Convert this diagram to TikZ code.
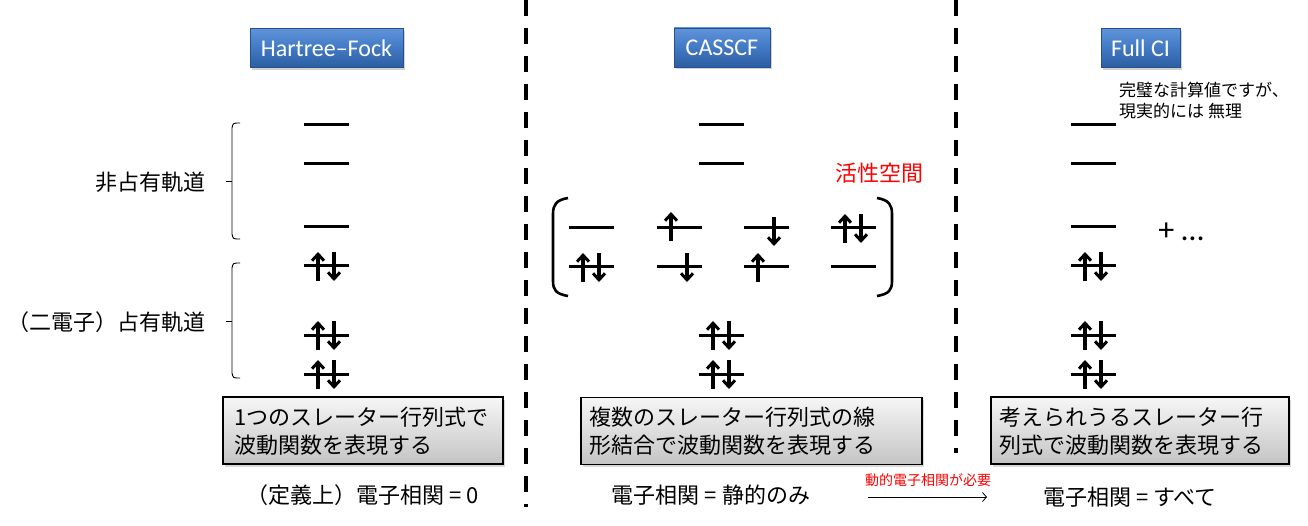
\documentclass[tikz,border=0pt]{standalone}
\usepackage{fontspec}
\setmainfont{Noto Sans CJK JP}
\newfontfamily\btnfont{Carlito}
\usetikzlibrary{arrows.meta,shadows}
\definecolor{btntop}{RGB}{95,148,218}
\definecolor{btnmid}{RGB}{66,121,196}
\definecolor{btnbot}{RGB}{44,94,160}
\definecolor{btnedge}{RGB}{40,80,140}
\definecolor{gtop}{RGB}{246,246,246}
\definecolor{gbot}{RGB}{196,196,196}
\newcommand\orbit[2]{\draw[lvl] (#1,#2) -- ++(45,0);}
\newcommand\spinup[2]{\draw[spin] (#1,#2) ++(0,15) -- ++(0,-29);}
\newcommand\spindn[2]{\draw[spin] (#1,#2) ++(0,-14) -- ++(0,29);}
\newcommand\pairorb[2]{\orbit{#1}{#2}\spinup{#1+14}{#2}\spindn{#1+30}{#2}}
\begin{document}
\begin{tikzpicture}[x=1pt,y=-1pt,
  lvl/.style={line width=3pt},
  spin/.style={line width=3.3pt,-{Straight Barb[length=6.5pt,width=12pt,line width=3pt]}},
  btn/.style={draw=btnedge,line width=0.4pt,top color=btntop,bottom color=btnbot,middle color=btnmid,
    text=white,font=\btnfont\fontsize{24}{26}\selectfont,minimum height=39pt,inner xsep=8pt,
    drop shadow={opacity=0.35,shadow xshift=1.5pt,shadow yshift=-2.5pt}},
  gbox/.style={draw=black,line width=1.1pt,top color=gtop,bottom color=gbot,
    minimum height=67pt,drop shadow={opacity=0.3,shadow xshift=2pt,shadow yshift=-2.5pt}},
  jtxt/.style={font=\fontsize{22}{28}\selectfont,inner sep=0pt},
  brace/.style={line width=0.9pt},
  paren/.style={line width=2.6pt},
  sepline/.style={line width=4pt,dash pattern=on 16pt off 12pt}
]
\useasboundingbox (0,0) rectangle (1308,526);
\fill[white] (0,0) rectangle (1308,526);

% separators
\coordinate (s1t) at (526,0); \coordinate (s1b) at (526,507);
\coordinate (s2t) at (956,0); \coordinate (s2b) at (956,453);
\draw[sepline] (s1t) -- (s1b);
\draw[sepline] (s2t) -- (s2b);

% titles
\node[btn,minimum width=153pt] (hf) at (326.5,48) {Hartree\textendash Fock};
\node[btn,minimum width=96pt] (cas) at (722,47.5) {CASSCF};
\node[btn,minimum width=79pt] (fci) at (1140.5,48) {Full CI};

% left labels and braces
\node[jtxt,anchor=east] (unocc) at (206,182) {非占有軌道};
\node[jtxt,anchor=east] (occ) at (206,322) {（二電子）占有軌道};
\draw[brace] (240,123) .. controls (233,123) .. (232,128) -- (232,234) .. controls (233,239) .. (240,239);
\draw[brace] (226,181) -- (232,181);
\draw[brace] (240,263) .. controls (233,263) .. (232,268) -- (232,373) .. controls (233,378) .. (240,378);
\draw[brace] (226,321) -- (232,321);

% Hartree-Fock levels
\orbit{304}{125}\orbit{304}{164}\orbit{304}{227}
\pairorb{304}{266}\pairorb{304}{335}\pairorb{304}{374}

% CASSCF
\orbit{699}{125}\orbit{699}{164}
\pairorb{699}{335}\pairorb{699}{374}
\orbit{569}{228}\pairorb{569}{267}
\orbit{657}{228}\spinup{671}{226}\orbit{657}{267}\spindn{687}{267}
\orbit{744}{228}\spindn{774}{231}\orbit{744}{267}\spinup{758}{267}
\pairorb{831}{228}\orbit{831}{267}
\draw[paren] (568,198) .. controls (556,200) and (553,205) .. (553,214) -- (553,281) .. controls (553,290) and (556,294) .. (568,296);
\draw[paren] (877,198) .. controls (889,200) and (892,205) .. (892,214) -- (892,281) .. controls (892,290) and (889,294) .. (877,296);
\node[jtxt,text=red] (active) at (879,173) {活性空間};

% Full CI
\orbit{1071}{125}\orbit{1071}{164}\orbit{1071}{227}
\pairorb{1071}{266}\pairorb{1071}{335}\pairorb{1071}{374}
\node[font=\btnfont\fontsize{32}{34}\selectfont,inner sep=0pt] (plus) at (1181,232) {+ \ldots};
\node[font=\fontsize{17}{21}\selectfont,align=left,anchor=west,inner sep=0pt] (note) at (1119,100.5) {完璧な計算値ですが、\\現実的には 無理};

% bottom boxes
\node[gbox,minimum width=280pt] (hfbox) at (363,430.5) {};
\node[jtxt,anchor=west,align=left] (hftxt) at (234,431) {1つのスレーター行列式で\\波動関数を表現する};
\node[gbox,minimum width=341pt] (casbox) at (751.5,431) {};
\node[jtxt,anchor=west,align=left] (castxt) at (589,431) {複数のスレーター行列式の線\\形結合で波動関数を表現する};
\node[gbox,minimum width=298pt] (fcibox) at (1140,430.5) {};
\node[jtxt,anchor=west,align=left] (fcitxt) at (999,431) {考えられうるスレーター行\\列式で波動関数を表現する};

% correlation labels
\node[jtxt] (hfcorr) at (363,495) {（定義上）電子相関 = 0};
\node[jtxt] (cascorr) at (711,495) {電子相関 = 静的のみ};
\node[jtxt] (fcicorr) at (1130,497) {電子相関 = すべて};
\node[font=\fontsize{14}{16}\selectfont,text=red,inner sep=0pt] (dyn) at (928,480) {動的電子相関が必要};
\coordinate (a1) at (868,497); \coordinate (a2) at (987,497);
\draw[line width=0.8pt,-{Straight Barb[length=4pt,width=9pt]}] (a1) -- (a2);
\end{tikzpicture}
\end{document}
